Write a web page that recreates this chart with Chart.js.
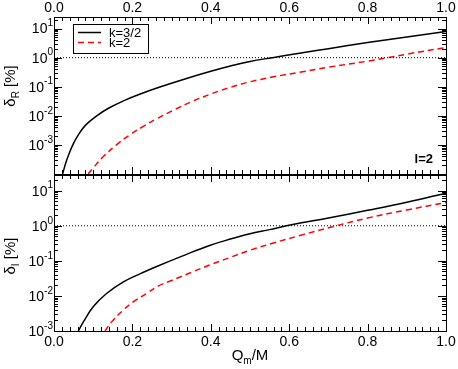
<!DOCTYPE html>
<html>
<head>
<meta charset="utf-8">
<script src="https://cdn.jsdelivr.net/npm/chart.js@4.4.1/dist/chart.umd.min.js"></script>
<style>
  html, body { margin: 0; padding: 0; background: #fff; }
  #wrap { position: relative; width: 458px; height: 369px; }
  #cTop { position: absolute; left: 0; top: 0; }
  #cBot { position: absolute; left: 0; top: 170px; }
</style>
</head>
<body>
<div id="wrap">
  <canvas id="cTop" width="458" height="175"></canvas>
  <canvas id="cBot" width="458" height="199"></canvas>
</div>
<script>
// ---- data ----
const seriesLabels = ["k=3/2", "k=2"];
const xTickValues = [0, 0.2, 0.4, 0.6, 0.8, 1.0];
const xTickLabels = ["0.0", "0.2", "0.4", "0.6", "0.8", "1.0"];
const yTopExponents = [-3, -2, -1, 0, 1];
const yBotExponents = [-3, -2, -1, 0, 1];
const unityX = [0, 1];
const unityY = [1, 1];

// top panel: delta_R [%]
const qRk32 = [0.022, 0.03, 0.04, 0.048, 0.06, 0.08, 0.109, 0.14, 0.18, 0.22, 0.27, 0.33, 0.40, 0.45, 0.50, 0.557, 0.63, 0.70, 0.80, 0.90, 1.0];
const dRk32 = [1.0e-4, 2.4e-4, 5.6e-4, 1.0e-3, 2.0e-3, 4.7e-3, 1.0e-2, 1.86e-2, 3.39e-2, 5.62e-2, 0.0977, 0.178, 0.339, 0.513, 0.741, 1.0, 1.45, 2.04, 3.31, 5.13, 7.94];
const qRk2 = [0.087, 0.10, 0.126, 0.16, 0.194, 0.228, 0.262, 0.30, 0.35, 0.40, 0.45, 0.50, 0.56, 0.627, 0.70, 0.80, 0.852, 0.90, 1.0];
const dRk2 = [1.0e-4, 1.62e-4, 3.98e-4, 1.02e-3, 2.24e-3, 4.37e-3, 7.94e-3, 0.0145, 0.0302, 0.0562, 0.0955, 0.148, 0.219, 0.316, 0.468, 0.759, 1.0, 1.32, 2.24];

// bottom panel: delta_I [%]
const qIk32 = [0.062, 0.075, 0.10, 0.134, 0.177, 0.219, 0.262, 0.33, 0.397, 0.45, 0.50, 0.55, 0.593, 0.65, 0.70, 0.80, 0.90, 1.0];
const dIk32 = [1.0e-3, 1.82e-3, 4.9e-3, 0.0117, 0.0251, 0.0427, 0.0692, 0.141, 0.275, 0.417, 0.589, 0.776, 1.0, 1.32, 1.66, 2.75, 4.68, 8.51];
const qIk2 = [0.130, 0.147, 0.177, 0.202, 0.236, 0.266, 0.30, 0.35, 0.397, 0.45, 0.50, 0.56, 0.627, 0.72, 0.80, 0.90, 1.0];
const dIk2 = [1.0e-3, 1.82e-3, 3.98e-3, 6.76e-3, 0.0117, 0.0191, 0.0275, 0.0468, 0.0759, 0.126, 0.200, 0.324, 0.525, 1.0, 1.66, 2.82, 4.57];

const FONT = "'Liberation Sans', Arial, Helvetica, sans-serif";

function pts(xs, ys) {
  return xs.map((x, i) => ({ x, y: ys[i] }));
}

function makeDatasets(qa, da, qb, db) {
  return [
    {
      label: "unity",
      data: pts(unityX, unityY),
      borderColor: "#000",
      borderWidth: 1,
      borderDash: [1, 2],
      pointRadius: 0,
    },
    {
      label: seriesLabels[1],
      data: pts(qb, db),
      borderColor: "#ff0000",
      borderWidth: 1.5,
      borderDash: [6, 4],
      pointRadius: 0,
      tension: 0.4,
    },
    {
      label: seriesLabels[0],
      data: pts(qa, da),
      borderColor: "#000",
      borderWidth: 1.5,
      pointRadius: 0,
      tension: 0.4,
    },
  ];
}

// frame, inward ticks, tick labels and y title
const framePlugin = {
  id: "frame",
  afterDraw(chart, args, opts) {
    const { ctx, chartArea: a, scales } = chart;
    const xs = scales.x, ys = scales.y;
    ctx.save();
    ctx.strokeStyle = "#000";
    ctx.lineWidth = 1;
    ctx.strokeRect(a.left + 0.5, a.top + 0.5, a.right - a.left, a.bottom - a.top);

    ctx.beginPath();
    for (let i = 0; i <= 50; i++) {
      const px = Math.round(xs.getPixelForValue(i * 0.02)) + 0.5;
      const len = i % 10 === 0 ? 7 : 4;
      ctx.moveTo(px, a.top); ctx.lineTo(px, a.top + len);
      ctx.moveTo(px, a.bottom); ctx.lineTo(px, a.bottom - len);
    }
    const lo = Math.floor(Math.log10(ys.min)), hi = Math.ceil(Math.log10(ys.max));
    for (let e = lo; e <= hi; e++) {
      for (let m = 1; m <= 9; m++) {
        const v = m * Math.pow(10, e);
        if (v < ys.min * 0.999 || v > ys.max) continue;
        const py = Math.round(ys.getPixelForValue(v)) + 0.5;
        const len = m === 1 ? 8 : 4;
        ctx.moveTo(a.left, py); ctx.lineTo(a.left + len, py);
        ctx.moveTo(a.right, py); ctx.lineTo(a.right - len, py);
      }
    }
    ctx.stroke();

    ctx.fillStyle = "#000";

    // x tick labels
    ctx.font = "14px " + FONT;
    ctx.textAlign = "center";
    ctx.textBaseline = "middle";
    xTickValues.forEach((v, i) => {
      ctx.fillText(xTickLabels[i], xs.getPixelForValue(v), opts.xLabelY);
    });

    // y tick labels 10^n
    ctx.textAlign = "left";
    opts.exponents.forEach((e) => {
      const py = ys.getPixelForValue(Math.pow(10, e));
      const sup = String(e);
      ctx.font = "10px " + FONT;
      const ws = ctx.measureText(sup).width;
      ctx.font = "14px " + FONT;
      const wb = ctx.measureText("10").width;
      const xr = a.left - 1;
      ctx.fillText("10", xr - ws - wb, py + 1);
      ctx.font = "10px " + FONT;
      ctx.fillText(sup, xr - ws, py - 5);
    });

    // y title with subscript, rotated
    ctx.translate(opts.titleX, opts.titleY);
    ctx.rotate(-Math.PI / 2);
    ctx.font = "15px " + FONT;
    const w1 = ctx.measureText("\u03b4").width;
    ctx.font = "10px " + FONT;
    const w2 = ctx.measureText(opts.sub).width;
    ctx.font = "15px " + FONT;
    const w3 = ctx.measureText(" [%]").width;
    const x0 = -(w1 + w2 + w3) / 2;
    ctx.fillText("\u03b4", x0, 0);
    ctx.font = "10px " + FONT;
    ctx.fillText(opts.sub, x0 + w1, 5);
    ctx.font = "15px " + FONT;
    ctx.fillText(" [%]", x0 + w1 + w2, 0);
    ctx.restore();
  },
};

const legendPlugin = {
  id: "boxLegend",
  afterDraw(chart) {
    const { ctx } = chart;
    const ds = chart.data.datasets;
    const rows = [ds[2], ds[1]];
    ctx.save();
    ctx.fillStyle = "#fff";
    ctx.fillRect(73, 24, 75, 29);
    ctx.strokeStyle = "#000";
    ctx.lineWidth = 1;
    ctx.strokeRect(73.5, 24.5, 75, 29);
    rows.forEach((d, i) => {
      const y = 32.5 + i * 10;
      ctx.strokeStyle = d.borderColor;
      ctx.lineWidth = 1.5;
      ctx.setLineDash(d.borderDash || []);
      ctx.beginPath();
      ctx.moveTo(78, y);
      ctx.lineTo(101, y);
      ctx.stroke();
      ctx.setLineDash([]);
      ctx.fillStyle = "#000";
      ctx.font = "13px " + FONT;
      ctx.textBaseline = "middle";
      ctx.fillText(d.label, 109, y + 0.5);
    });
    // panel tag
    ctx.font = "bold 13px " + FONT;
    ctx.textAlign = "right";
    ctx.fillText("l=2", 433, 159);
    ctx.restore();
  },
};

const xTitlePlugin = {
  id: "xTitle",
  afterDraw(chart) {
    const { ctx, chartArea: a } = chart;
    ctx.save();
    ctx.fillStyle = "#000";
    ctx.textBaseline = "middle";
    ctx.font = "15px " + FONT;
    const wq = ctx.measureText("Q").width;
    const wm0 = ctx.measureText("/M").width;
    ctx.font = "10px " + FONT;
    const ws = ctx.measureText("m").width;
    const cx = (a.left + a.right) / 2;
    const y = 186;
    const x0 = cx - (wq + ws + wm0) / 2;
    ctx.font = "15px " + FONT;
    ctx.fillText("Q", x0, y);
    ctx.font = "10px " + FONT;
    ctx.fillText("m", x0 + wq, y + 5);
    ctx.font = "15px " + FONT;
    ctx.fillText("/M", x0 + wq + ws, y);
    ctx.restore();
  },
};

function baseOptions(padding, yMin, yMax, frameOpts) {
  return {
    responsive: false,
    animation: false,
    devicePixelRatio: 1,
    layout: { padding },
    plugins: {
      legend: { display: false },
      tooltip: { enabled: false },
      frame: frameOpts,
    },
    scales: {
      x: { type: "linear", min: 0, max: 1, display: false },
      y: { type: "logarithmic", min: yMin, max: yMax, display: false },
    },
  };
}

new Chart(document.getElementById("cTop"), {
  type: "line",
  data: { datasets: makeDatasets(qRk32, dRk32, qRk2, dRk2) },
  options: baseOptions(
    { left: 54, right: 12, top: 17, bottom: 1 },
    1e-4, 25,
    { exponents: yTopExponents, sub: "R", titleX: 11, titleY: 86, xLabelY: 8 }
  ),
  plugins: [framePlugin, legendPlugin],
});

new Chart(document.getElementById("cBot"), {
  type: "line",
  data: { datasets: makeDatasets(qIk32, dIk32, qIk2, dIk2) },
  options: baseOptions(
    { left: 54, right: 12, top: 5, bottom: 38 },
    1e-3, 28,
    { exponents: yBotExponents, sub: "I", titleX: 11, titleY: 86, xLabelY: 172 }
  ),
  plugins: [framePlugin, xTitlePlugin],
});
</script>
</body>
</html>
